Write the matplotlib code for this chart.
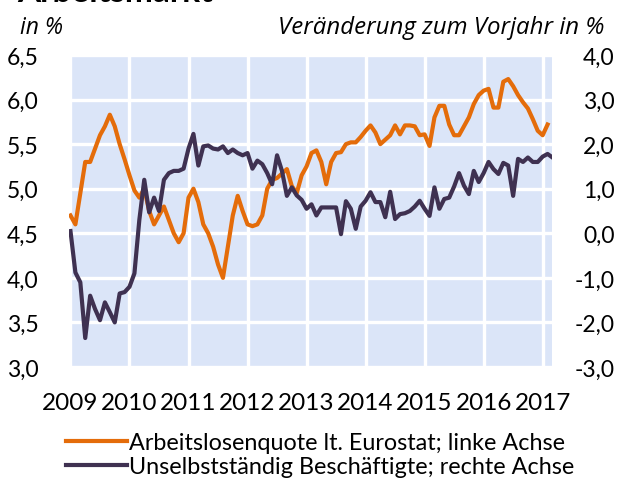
import numpy as np
import matplotlib
matplotlib.use('Agg')
import matplotlib.pyplot as plt

# Data (monthly, Jan 2009 onwards)
years = ['2009', '2010', '2011', '2012', '2013', '2014', '2015', '2016', '2017']

# Arbeitslosenquote lt. Eurostat, in % (left axis)
unemployment = [
    4.70, 4.60, 4.95, 5.30, 5.30, 5.45, 5.60, 5.70, 5.83, 5.70, 5.50, 5.33,
    5.15, 4.98, 4.90, 5.00, 4.75, 4.60, 4.70, 4.80, 4.65, 4.50, 4.40, 4.50,
    4.90, 5.00, 4.85, 4.60, 4.50, 4.35, 4.15, 4.00, 4.35, 4.70, 4.92, 4.75,
    4.60, 4.58, 4.60, 4.70, 5.00, 5.10, 5.12, 5.17, 5.22, 5.03, 4.95, 5.15,
    5.25, 5.40, 5.43, 5.30, 5.05, 5.30, 5.40, 5.41, 5.50, 5.52, 5.52, 5.58,
    5.65, 5.71, 5.63, 5.50, 5.55, 5.60, 5.71, 5.61, 5.71, 5.71, 5.70, 5.60,
    5.61, 5.48, 5.80, 5.93, 5.93, 5.72, 5.60, 5.60, 5.70, 5.80, 5.95, 6.05,
    6.10, 6.12, 5.91, 5.91, 6.20, 6.23, 6.15, 6.05, 5.97, 5.90, 5.78, 5.65,
    5.60, 5.72,
]

# Unselbstständig Beschäftigte, Veränderung zum Vorjahr in % (right axis)
employment = [
    0.05, -0.88, -1.10, -2.35, -1.40, -1.70, -1.95, -1.55, -1.77, -2.00, -1.35, -1.32,
    -1.20, -0.90, 0.30, 1.20, 0.47, 0.80, 0.50, 1.20, 1.35, 1.40, 1.40, 1.45,
    1.90, 2.23, 1.52, 1.95, 1.97, 1.90, 1.88, 1.95, 1.80, 1.88, 1.80, 1.75,
    1.80, 1.45, 1.63, 1.55, 1.35, 1.10, 1.75, 1.40, 0.84, 1.03, 0.85, 0.75,
    0.55, 0.65, 0.40, 0.58, 0.58, 0.58, 0.58, -0.02, 0.72, 0.55, 0.10, 0.60,
    0.73, 0.92, 0.70, 0.70, 0.36, 0.93, 0.32, 0.43, 0.45, 0.50, 0.60, 0.73,
    0.55, 0.39, 1.03, 0.55, 0.77, 0.80, 1.05, 1.35, 1.07, 0.88, 1.40, 1.15,
    1.35, 1.60, 1.44, 1.33, 1.58, 1.52, 0.84, 1.67, 1.60, 1.70, 1.60, 1.60,
    1.72, 1.78, 1.70,
]

orange = '#E46C0A'
purple = '#3F3151'
tile = '#DBE5F8'

plt.rcParams['font.family'] = ['Lato', 'DejaVu Sans']

# Charting
fig = plt.figure(figsize=(6.24, 4.81), dpi=100)
ax = fig.add_axes([69 / 624, 1 - 368 / 481, 483 / 624, 312 / 481])
ax2 = ax.twinx()

ax.set_facecolor(tile)
ax.set_axisbelow(True)
ax.grid(True, color='white', linewidth=2.4)

l1, = ax.plot(np.arange(len(unemployment)), unemployment, color=orange, linewidth=3,
              solid_joinstyle='round', label='Arbeitslosenquote lt. Eurostat; linke Achse')
l2, = ax2.plot(np.arange(len(employment)), employment, color=purple, linewidth=3,
               solid_joinstyle='round', label='Unselbstständig Beschäftigte; rechte Achse')

ax.set_xlim(-0.3, 97.9)
ax.set_ylim(3.0, 6.5)
ax2.set_ylim(-3.0, 4.0)

ax.set_xticks(np.arange(len(years)) * 12)
ax.set_xticklabels(years)
ax.set_yticks(np.arange(3.0, 6.51, 0.5))
ax.set_yticklabels([f'{v:.1f}'.replace('.', ',') for v in np.arange(3.0, 6.51, 0.5)])
ax2.set_yticks(np.arange(-3, 5, 1))
ax2.set_yticklabels([f'{v:.1f}'.replace('.', ',') for v in np.arange(-3, 5, 1)],
                    ha='right')

ax.tick_params(axis='x', length=0, labelsize=17.5, pad=18)
ax.tick_params(axis='y', length=0, labelsize=16.5, pad=22)
ax2.tick_params(axis='y', length=0, labelsize=16.5, pad=45)

for a in (ax, ax2):
    for s in a.spines.values():
        s.set_visible(False)

# Texts (title is cropped at the top edge, as in the source image)
fig.text(17 / 624, 1 - 2 / 481, 'Arbeitsmarkt', fontsize=24, fontweight='bold',
         ha='left', va='baseline')
fig.text(20 / 624, 1 - 28 / 481, 'in %', fontsize=16.5, style='italic',
         family=['Open Sans', 'DejaVu Sans'], ha='left', va='center')
fig.text(604 / 624, 1 - 28 / 481, 'Veränderung zum Vorjahr in %', fontsize=17.3,
         style='italic', family=['Open Sans', 'DejaVu Sans'], ha='right', va='center')

fig.legend(handles=[l1, l2], loc='upper left', bbox_to_anchor=(66 / 624, 1 - 433 / 481),
           frameon=False, fontsize=16.8, handlelength=2.6, handletextpad=0.1,
           labelspacing=0.12, borderpad=0, borderaxespad=0)

fig.savefig('out.png', dpi=100)
